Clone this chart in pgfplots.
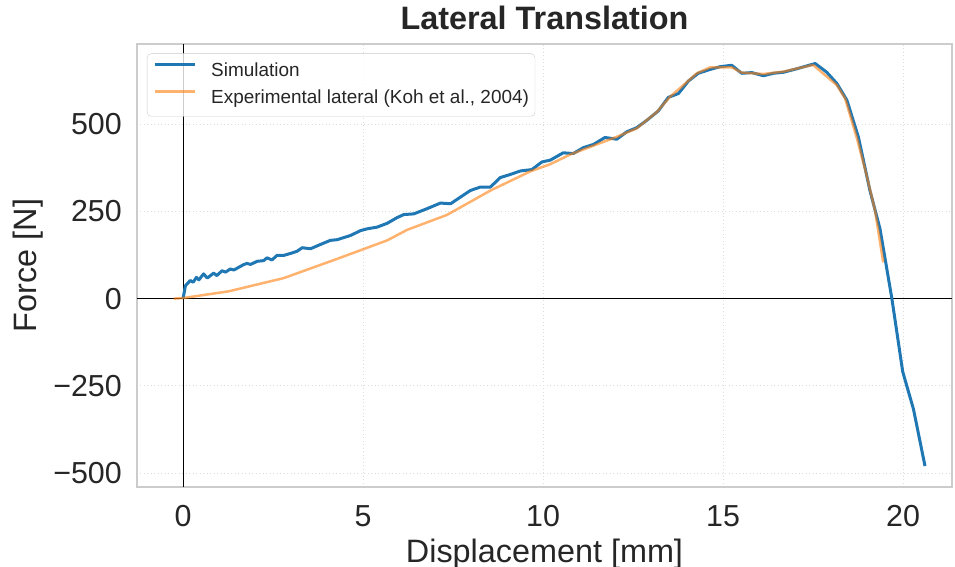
\documentclass[border=0pt]{standalone}
\usepackage{fontspec}
\setmainfont{Liberation Sans}
\usepackage{pgfplots}
\pgfplotsset{compat=1.18}
\definecolor{simblue}{HTML}{1F77B4}
\definecolor{exporange}{HTML}{FF7F0E}
\definecolor{txt}{HTML}{262626}
\definecolor{framec}{HTML}{CCCCCC}
\definecolor{gridc}{HTML}{DDDDDD}

\begin{document}
\begin{tikzpicture}
\begin{axis}[
  at={(0,0)}, anchor=south west,
  scale only axis, width=815bp, height=443bp,
  xmin=-1.28, xmax=21.36, ymin=-540, ymax=730,
  xtick={0,5,10,15,20},
  ytick={-500,-250,0,250,500},
  yticklabels={−500,−250,0,250,500},
  /pgf/number format/assume math mode=true,
  major tick length=0pt,
  axis line style={draw=framec, line width=1.2bp},
  grid=major,
  major grid style={draw=gridc, line width=0.9bp, dash pattern=on 1bp off 2.5bp},
  tick label style={font=\fontsize{30.5}{36}\selectfont, text=txt},
  xticklabel style={anchor=north, inner sep=0pt, yshift=-18bp},
  yticklabel style={anchor=east, inner sep=0pt, xshift=-15bp},
  xlabel={Displacement [mm]},
  ylabel={Force [N]},
  label style={font=\fontsize{32.5}{38}\selectfont, text=txt},
  xlabel style={at={(axis description cs:0.5,-0.1693)}, anchor=base},
  ylabel style={at={(axis description cs:-0.1239,0.5)}, anchor=base},
  title={Lateral Translation},
  title style={font=\bfseries\fontsize{32.5}{38}\selectfont, text=txt,
    at={(axis description cs:0.5,1.0203)}, anchor=base, inner sep=0pt},
  legend cell align=left,
  legend style={at={(axis description cs:0.01227,0.97856)}, anchor=north west,
    draw=framec, rounded corners=4bp, fill=white,
    fill opacity=0.8, text opacity=1,
    font=\fontsize{19}{22}\selectfont, text=txt,
    inner xsep=6bp, inner ysep=9bp, row sep=9.4bp, column sep=15bp,
    nodes={inner sep=0pt, text height=13.6bp, text depth=4bp}},
  legend image code/.code={\draw[#1] (0bp,6.8bp) -- (40bp,6.8bp);},
]
% reference lines through the origin
\addplot[forget plot, black, line width=0.9bp] coordinates {(0,-540) (0,730)};
\addplot[forget plot, black, line width=0.9bp] coordinates {(-1.28,0) (21.36,0)};

% simulated force-displacement response
\addplot[simblue, line width=3bp, line join=round,
  legend image post style={line width=3bp}] coordinates {
(0,0) (0.065,37) (0.2,52) (0.28,47) (0.37,61) (0.44,54) (0.57,71) (0.67,59)
(0.85,73) (0.94,66) (1.08,80) (1.18,76) (1.31,85) (1.41,82) (1.55,90)
(1.69,98) (1.78,101) (1.87,98) (2.06,107) (2.24,109) (2.33,117) (2.47,111)
(2.61,124) (2.8,124) (3.03,131) (3.17,136) (3.31,146) (3.54,143) (3.81,155)
(4.09,167) (4.28,169) (4.65,181) (4.93,195) (5.11,200) (5.39,205) (5.67,216)
(5.94,232) (6.13,241) (6.41,243) (6.78,258) (7.15,274) (7.43,272) (7.98,310)
(8.26,320) (8.54,320) (8.81,347) (9.09,356) (9.37,366) (9.69,370) (9.97,392)
(10.2,397) (10.56,418) (10.84,416) (11.12,433) (11.4,442) (11.72,462)
(12.05,457) (12.32,478) (12.6,490) (12.88,511) (13.2,538) (13.48,577)
(13.76,588) (14.04,624) (14.31,646) (14.64,657) (14.92,665) (15.24,669)
(15.52,646) (15.8,648) (16.12,639) (16.4,646) (16.68,649) (17.05,659)
(17.56,674) (17.88,649) (18.16,617) (18.44,569) (18.76,463) (19.08,310)
(19.36,200) (19.69,0) (19.99,-209) (20.29,-317) (20.61,-480)
};
\addlegendentry{Simulation}

% experimental curve
\addplot[exporange, opacity=0.6, line width=2.5bp, line join=round,
  legend image post style={line width=2.5bp}] coordinates {
(-0.26,0) (0.02,2) (1.27,21) (2.8,59) (4.28,114) (5.67,167) (6.22,197)
(7.33,240) (8.54,310) (9.65,365) (10.19,385) (10.75,413) (12.05,464)
(12.6,488) (13.16,535) (13.53,579) (13.9,612) (14.27,646) (14.64,663)
(15.24,663) (15.52,648) (16.12,644) (16.68,651) (17.5,670) (18.16,612)
(18.39,574) (18.71,463) (18.99,353) (19.22,253) (19.45,104)
};
\addlegendentry{Experimental lateral (Koh et al., 2004)}
\end{axis}
\pgfresetboundingbox
\useasboundingbox (-137bp,-80bp) rectangle (818bp,487bp);
\end{tikzpicture}
\end{document}
